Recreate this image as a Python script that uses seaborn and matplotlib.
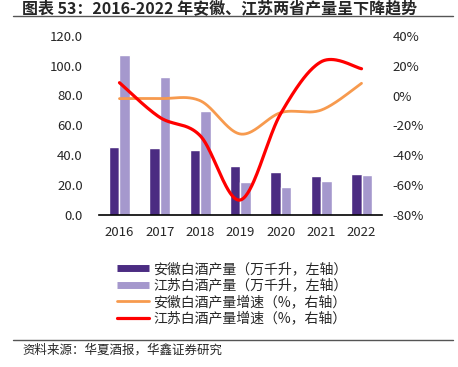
import numpy as np
import pandas as pd
import seaborn as sns
import matplotlib.pyplot as plt
from matplotlib.lines import Line2D

years = ['2016', '2017', '2018', '2019', '2020', '2021', '2022']
anhui_output = [45.1, 44.4, 43.3, 32.4, 28.7, 25.6, 27.3]
jiangsu_output = [107.3, 92.4, 69.5, 21.6, 18.7, 22.7, 26.4]
anhui_growth = [-2.1, -2.1, -3.5, -25.9, -11.5, -9.8, 8.2]
jiangsu_growth = [8.6, -14.7, -27.0, -70.2, -12.0, 22.7, 18.0]

name_ah = '安徽白酒产量（万千升，左轴）'
name_js = '江苏白酒产量（万千升，左轴）'
name_ahg = '安徽白酒产量增速（%，右轴）'
name_jsg = '江苏白酒产量增速（%，右轴）'

c_ah = '#4B2C82'
c_js = '#A598CD'
c_ahg = '#F79A4E'
c_jsg = '#FF0000'

sns.set_style('white')
plt.rcParams['font.family'] = ['Noto Sans CJK SC', 'DejaVu Sans']
plt.rcParams['axes.unicode_minus'] = False


def smooth(xs, ys, n=40):
    # excel style smoothed line: bezier through the points
    xs = np.asarray(xs, float)
    ys = np.asarray(ys, float)
    px = np.concatenate([[xs[0]], xs, [xs[-1]]])
    py = np.concatenate([[ys[0]], ys, [ys[-1]]])
    outx, outy = [], []
    t = np.linspace(0, 1, n)
    for i in range(1, len(xs)):
        p0 = np.array([px[i], py[i]])
        p3 = np.array([px[i + 1], py[i + 1]])
        c1 = p0 + (p3 - np.array([px[i - 1], py[i - 1]])) / 6
        c2 = p3 - (np.array([px[i + 2], py[i + 2]]) - p0) / 6
        b = ((1 - t) ** 3)[:, None] * p0 + (3 * (1 - t) ** 2 * t)[:, None] * c1 \
            + (3 * (1 - t) * t ** 2)[:, None] * c2 + (t ** 3)[:, None] * p3
        outx.extend(b[:, 0])
        outy.extend(b[:, 1])
    return np.array(outx), np.array(outy)


df = pd.DataFrame({
    'year': years * 2,
    'value': anhui_output + jiangsu_output,
    'series': [name_ah] * 7 + [name_js] * 7,
})

fig = plt.figure(figsize=(4.58, 3.67), dpi=100)
ax = fig.add_axes([99.3 / 458, 1 - 214.5 / 367, 282.4 / 458, 178.5 / 367])

sns.barplot(data=df, x='year', y='value', hue='series', palette=[c_ah, c_js],
            width=0.52, gap=0, saturation=1, ax=ax, legend=False)
ax.set_ylim(0, 120)
ax.set_xlim(-0.5, 6.5)
ax.set_yticks(np.arange(0, 121, 20))
ax.set_yticklabels(['%.1f' % v for v in np.arange(0, 121, 20)], fontsize=9.5)
ax.set_xlabel('')
ax.set_ylabel('')
ax.tick_params(axis='y', length=0, pad=12)
ax.tick_params(axis='x', which='major', length=0, pad=8, labelsize=9.5)
ax.set_xticks(np.arange(-0.5, 7, 1), minor=True)
ax.tick_params(axis='x', which='minor', direction='in', length=4, width=1, color='black')
for s in ['top', 'left', 'right']:
    ax.spines[s].set_visible(False)
ax.spines['bottom'].set_color('black')
ax.spines['bottom'].set_linewidth(1.2)

ax2 = ax.twinx()
xi = np.arange(len(years))
for vals, col, lw in [(anhui_growth, c_ahg, 2.0), (jiangsu_growth, c_jsg, 2.3)]:
    sx, sy = smooth(xi, vals)
    sns.lineplot(x=sx, y=sy, color=col, linewidth=lw, sort=False, ax=ax2)
ax2.set_ylim(-80, 40)
ax2.set_xlim(-0.5, 6.5)
ax2.set_yticks(np.arange(-80, 41, 20))
ax2.set_yticklabels(['%d%%' % v for v in np.arange(-80, 41, 20)], fontsize=9.5)
ax2.tick_params(axis='y', length=0, pad=8)
for s in ['top', 'left', 'right', 'bottom']:
    ax2.spines[s].set_visible(False)

handles = [
    Line2D([], [], color=c_ah, linewidth=5, solid_capstyle='butt'),
    Line2D([], [], color=c_js, linewidth=5, solid_capstyle='butt'),
    Line2D([], [], color=c_ahg, linewidth=2),
    Line2D([], [], color=c_jsg, linewidth=2.3),
]
fig.legend(handles, [name_ah, name_js, name_ahg, name_jsg], loc='upper left',
           bbox_to_anchor=(117 / 458, 1 - 262 / 367), frameon=False, fontsize=10,
           handlelength=2.3, handletextpad=0.3, labelspacing=0.18, borderpad=0,
           borderaxespad=0)

fig.text(22 / 458, 1 - 8 / 367, '图表 53：2016-2022 年安徽、江苏两省产量呈下降趋势',
         fontsize=11.5, fontweight='bold', va='center', ha='left')
fig.add_artist(Line2D([13 / 458, 453 / 458], [1 - 16 / 367, 1 - 16 / 367], color='#555555', linewidth=1))
fig.add_artist(Line2D([13 / 458, 453 / 458], [1 - 340 / 367, 1 - 340 / 367], color='#555555', linewidth=1))
fig.text(22 / 458, 1 - 350 / 367, '资料来源：华夏酒报，华鑫证券研究', fontsize=9, va='center', ha='left')

plt.savefig('out.png', dpi=100)
